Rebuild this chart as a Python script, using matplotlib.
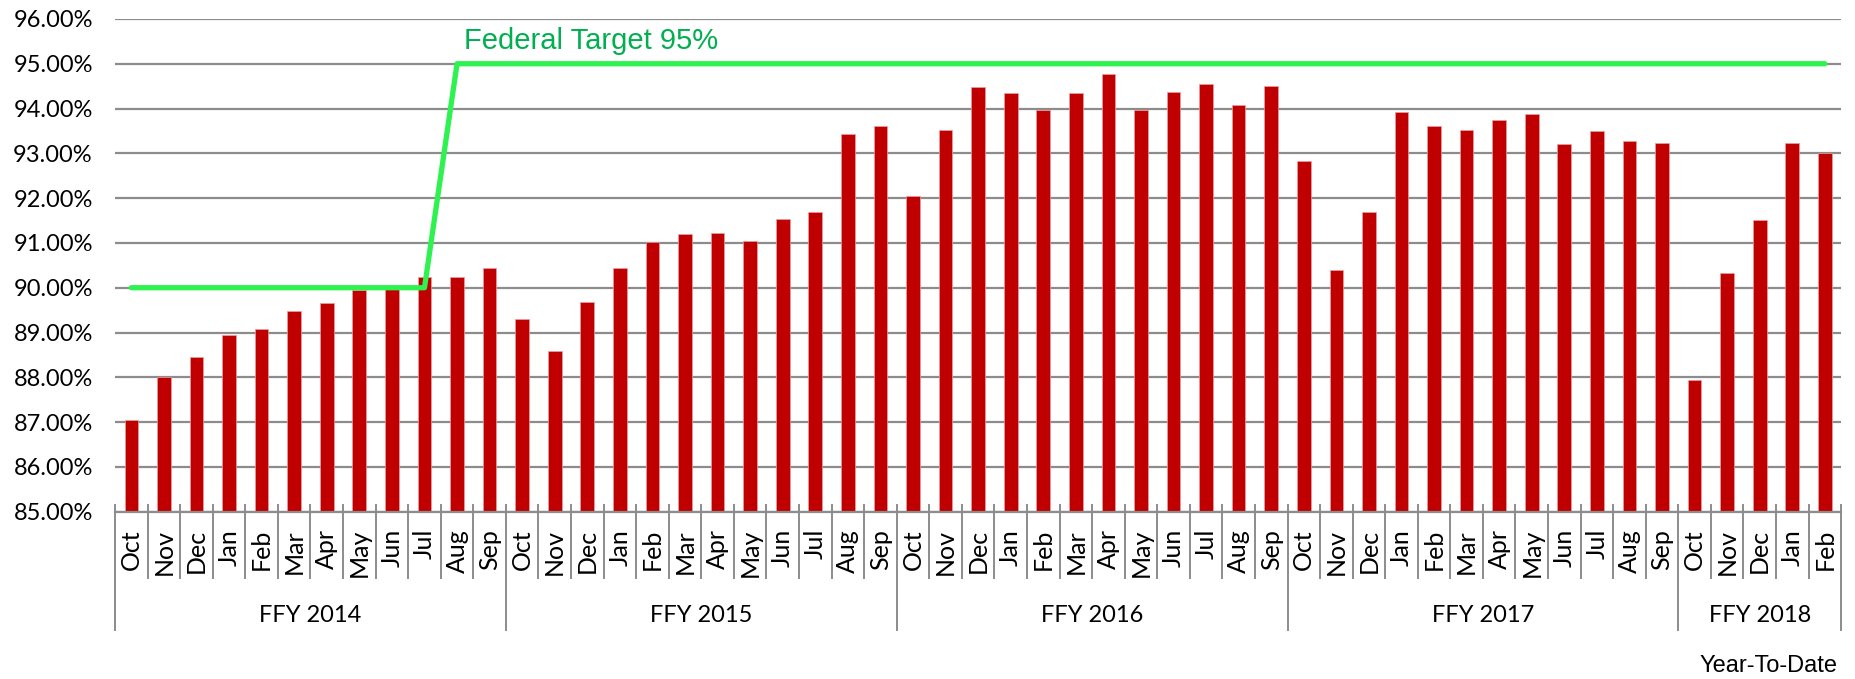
import matplotlib
matplotlib.use('Agg')
import matplotlib.pyplot as plt
import matplotlib.transforms as mtransforms
from matplotlib.ticker import FuncFormatter

# year-to-date rates, per fiscal year
fiscal_years = ['FFY 2014', 'FFY 2015', 'FFY 2016', 'FFY 2017', 'FFY 2018']
months = ['Oct', 'Nov', 'Dec', 'Jan', 'Feb', 'Mar', 'Apr', 'May', 'Jun', 'Jul', 'Aug', 'Sep']
months_per_year = [12, 12, 12, 12, 5]

rate_2014 = [87.05, 88.00, 88.45, 88.95, 89.08, 89.48, 89.65, 89.95, 89.97, 90.25, 90.23, 90.45]
rate_2015 = [89.30, 88.58, 89.68, 90.45, 91.01, 91.20, 91.22, 91.05, 91.53, 91.68, 93.44, 93.62]
rate_2016 = [92.04, 93.51, 94.48, 94.35, 93.96, 94.34, 94.78, 93.97, 94.36, 94.55, 94.09, 94.50]
rate_2017 = [92.83, 90.39, 91.68, 93.93, 93.60, 93.51, 93.75, 93.87, 93.21, 93.50, 93.28, 93.24]
rate_2018 = [87.94, 90.32, 91.52, 93.24, 93.01]

# federal target: 90% through Jul 2014, 95% from Aug 2014 on
target_before = 90
target_after = 95
target_switch = 10

rates = rate_2014 + rate_2015 + rate_2016 + rate_2017 + rate_2018
labels = []
for n in months_per_year:
    labels += months[:n]
x = list(range(len(rates)))
target = [target_before if i < target_switch else target_after for i in x]

fig = plt.figure(figsize=(18.56, 6.79), dpi=100)
ax = fig.add_axes([0.062, 0.2464, 0.930, 0.7257])

ax.set_axisbelow(True)
ax.yaxis.grid(True, color='#8c8c8c', lw=1.6)
ax.bar(x, rates, width=0.42, color='#C00000', edgecolor='#e8a0a0', linewidth=0.5, zorder=2)
ax.plot(x, target, color='#2DF24F', lw=3.8, solid_capstyle='round', solid_joinstyle='round', zorder=3)
ax.text(10.2, 95.5, 'Federal Target 95%', color='#00B050', fontsize=21,
        family='Liberation Sans', ha='left', va='center')

ax.set_xlim(-0.5, len(rates) - 0.5)
ax.set_ylim(85, 96)
ax.set_yticks(range(85, 97))
ax.yaxis.set_major_formatter(FuncFormatter(lambda v, p: '%.2f%%' % v))
ax.tick_params(axis='y', length=0, pad=16, labelsize=17)
for t in ax.get_yticklabels():
    t.set_family('Lato')

for s in ['top', 'right', 'left']:
    ax.spines[s].set_visible(False)
ax.spines['bottom'].set_color('#8c8c8c')
ax.spines['bottom'].set_linewidth(1.6)

ax.set_xticks(x)
ax.set_xticklabels([])
ax.tick_params(axis='x', length=0)

trans = mtransforms.blended_transform_factory(ax.transData, ax.transAxes)
for i, lab in enumerate(labels):
    ax.text(i, -0.035, lab, transform=trans, rotation=90, ha='center', va='top',
            fontsize=18, family='Lato', color='black')

# category separators
group_edges = [0]
for n in months_per_year:
    group_edges.append(group_edges[-1] + n)
for b in range(len(rates) + 1):
    bottom = -0.24 if b in group_edges else -0.135
    ax.plot([b - 0.5, b - 0.5], [0.014, bottom], transform=trans, color='#8c8c8c',
            lw=1.4, clip_on=False)

for k, name in enumerate(fiscal_years):
    mid = (group_edges[k] + group_edges[k + 1] - 1) / 2
    ax.text(mid, -0.21, name, transform=trans, ha='center', va='center',
            fontsize=17, family='Lato')

fig.text(0.990, 0.019, 'Year-To-Date', ha='right', va='center', fontsize=17,
         family='Liberation Sans')

fig.savefig('out.png', dpi=100)
